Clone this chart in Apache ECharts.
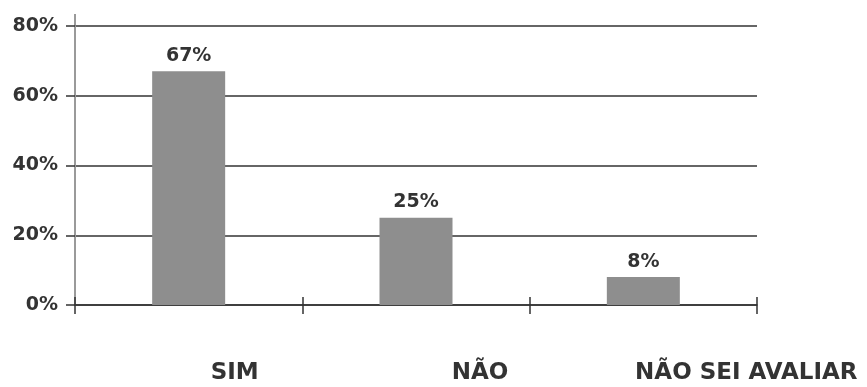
<!DOCTYPE html>
<html>
<head>
<meta charset="utf-8">
<script src="https://cdn.jsdelivr.net/npm/echarts@6/dist/echarts.min.js"></script>
<style>
  html, body { margin: 0; padding: 0; background: #ffffff; }
  #chart { width: 867px; height: 387px; }
</style>
</head>
<body>
<div id="chart"></div>
<script>
// Answer categories and their shares (percent)
const categories = ['SIM', 'NÃO', 'NÃO SEI AVALIAR'];
const shares = [67, 25, 8];
const yTicks = [0, 20, 40, 60, 80];

// Horizontal nudges of the category labels (px)
const labelShift = [46, 64, 103];

const FONT = '"DejaVu Sans", sans-serif';
const INK = '#333333';
const GRID = { left: 75, right: 110, top: 26, bottom: 82 };

const chart = echarts.init(document.getElementById('chart'), null, { renderer: 'canvas' });

const rich = {};
categories.forEach((c, i) => {
  rich['c' + i] = {
    fontFamily: FONT, fontWeight: 'bold', fontSize: 23, color: INK,
    padding: [0, 0, 0, labelShift[i] * 2]
  };
});

chart.setOption({
  animation: false,
  backgroundColor: '#ffffff',
  grid: GRID,
  xAxis: [
    {
      type: 'category',
      data: categories,
      axisLine: { lineStyle: { color: '#333333', width: 1.5 } },
      axisTick: { show: true, length: 9, inside: false, lineStyle: { color: '#333333', width: 1.5 } },
      axisLabel: {
        interval: 0,
        margin: 57,
        formatter: (v) => '{c' + categories.indexOf(v) + '|' + v + '}',
        rich: rich
      }
    },
    {
      // companion axis: ticks pointing up so each tick crosses the baseline
      type: 'category',
      data: categories,
      position: 'bottom',
      axisLine: { show: false },
      axisTick: { show: true, length: 8, inside: true, lineStyle: { color: '#333333', width: 1.5 } },
      axisLabel: { show: false }
    }
  ],
  yAxis: {
    type: 'value',
    min: yTicks[0],
    max: yTicks[yTicks.length - 1],
    interval: 20,
    axisLine: { show: true, lineStyle: { color: '#9a9a9a', width: 2 } },
    axisTick: { show: true, length: 9, lineStyle: { color: '#333333', width: 1.5 } },
    splitLine: { show: true, lineStyle: { color: '#333333', width: 1.5 } },
    axisLabel: {
      margin: 17,
      formatter: '{value}%',
      fontFamily: FONT, fontWeight: 'bold', fontSize: 19, color: INK
    }
  },
  series: [{
    type: 'bar',
    data: shares,
    barWidth: 73,
    itemStyle: { color: '#8e8e8e' },
    label: {
      show: true,
      position: 'top',
      distance: 6,
      formatter: '{c}%',
      fontFamily: FONT, fontWeight: 'bold', fontSize: 19, color: INK
    }
  }],
  graphic: [{
    // y-axis line continues a little above the top gridline
    type: 'line',
    shape: { x1: GRID.left, y1: GRID.top - 12, x2: GRID.left, y2: GRID.top },
    style: { stroke: '#9a9a9a', lineWidth: 2 }
  }]
});
</script>
</body>
</html>
